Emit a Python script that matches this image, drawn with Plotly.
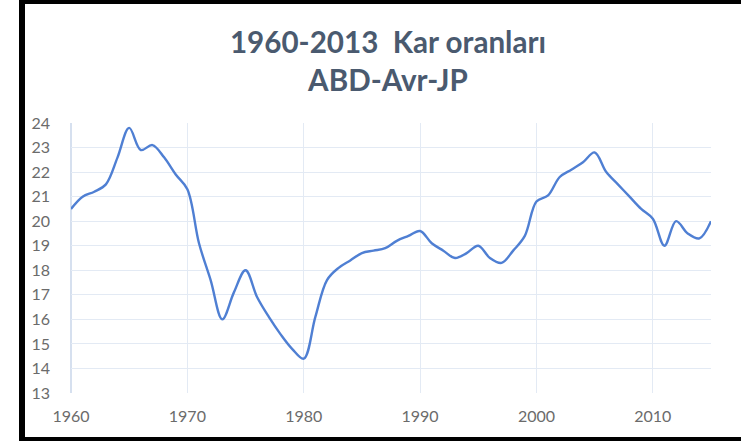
import plotly.graph_objects as go

years = list(range(1960, 2016))
values = [20.5, 21.0, 21.2, 21.5, 22.6, 23.8, 22.9, 23.1, 22.6, 21.9,
          21.3, 19.1, 17.6, 16.0, 17.1, 18.0, 16.9, 16.1, 15.4, 14.8,
          14.4, 16.1, 17.6, 18.1, 18.4, 18.7, 18.8, 18.9, 19.2, 19.4,
          19.6, 19.1, 18.8, 18.5, 18.7, 19.0, 18.5, 18.3, 18.8, 19.4,
          20.8, 21.05, 21.8, 22.1, 22.4, 22.8, 22.0, 21.5, 21.0, 20.5,
          20.1, 19.0, 20.0, 19.5, 19.3, 20.0]
title_lines = ["1960-2013  Kar oranları", "ABD-Avr-JP"]
x_ticks = [1960, 1970, 1980, 1990, 2000, 2010]
y_ticks = list(range(13, 25))

L, R, T, B = 71, 30, 123, 48
W, H = 741, 441
pw, ph = W - L - R, H - T - B

def px(x):
    return (x - L) / pw

def py(y):
    return (H - B - y) / ph

fig = go.Figure()
fig.add_trace(go.Scatter(
    x=years, y=values, mode="lines",
    line=dict(color="#4F7FD3", width=2.4, shape="spline", smoothing=1.0),
    hoverinfo="skip", showlegend=False,
))

grid = "#E3EAF4"
fig.update_layout(
    width=W, height=H,
    margin=dict(l=L, r=R, t=T, b=B),
    paper_bgcolor="white", plot_bgcolor="white",
    title=dict(
        text="<br>".join(title_lines),
        xref="paper", x=px(388), xanchor="center",
        y=1 - 53 / H, yanchor="middle",
        font=dict(family="Lato", size=29.6, color="#4A5A6F", weight="bold"),
    ),
    xaxis=dict(
        range=[1960, 2015], tickvals=x_ticks, showgrid=True, gridcolor=grid,
        gridwidth=1, zeroline=False, showline=False,
        tickfont=dict(family="Lato", size=16, color="#6B6B6B"),
        ticks="", ticklabelstandoff=12,
    ),
    yaxis=dict(
        range=[13, 24], tickvals=y_ticks, showgrid=True, gridcolor=grid,
        gridwidth=1, zeroline=False, showline=False,
        tickfont=dict(family="Lato", size=16, color="#6B6B6B"),
        ticks="", ticklabelstandoff=20,
    ),
    shapes=[
        dict(type="rect", xref="paper", yref="paper",
             x0=px(19), x1=px(25), y0=py(H), y1=py(0),
             fillcolor="black", line_width=0, layer="above"),
        dict(type="rect", xref="paper", yref="paper",
             x0=px(19), x1=px(W), y0=py(4), y1=py(0),
             fillcolor="black", line_width=0, layer="above"),
        dict(type="rect", xref="paper", yref="paper",
             x0=px(19), x1=px(W), y0=py(H), y1=py(437),
             fillcolor="black", line_width=0, layer="above"),
        dict(type="line", xref="paper", yref="paper",
             x0=0, x1=0, y0=0, y1=1,
             line=dict(color="#C9D6EA", width=1.5), layer="below"),
    ],
)

fig.write_html("out.html", config={"displayModeBar": False},
               post_script="document.body.style.margin='0';")
